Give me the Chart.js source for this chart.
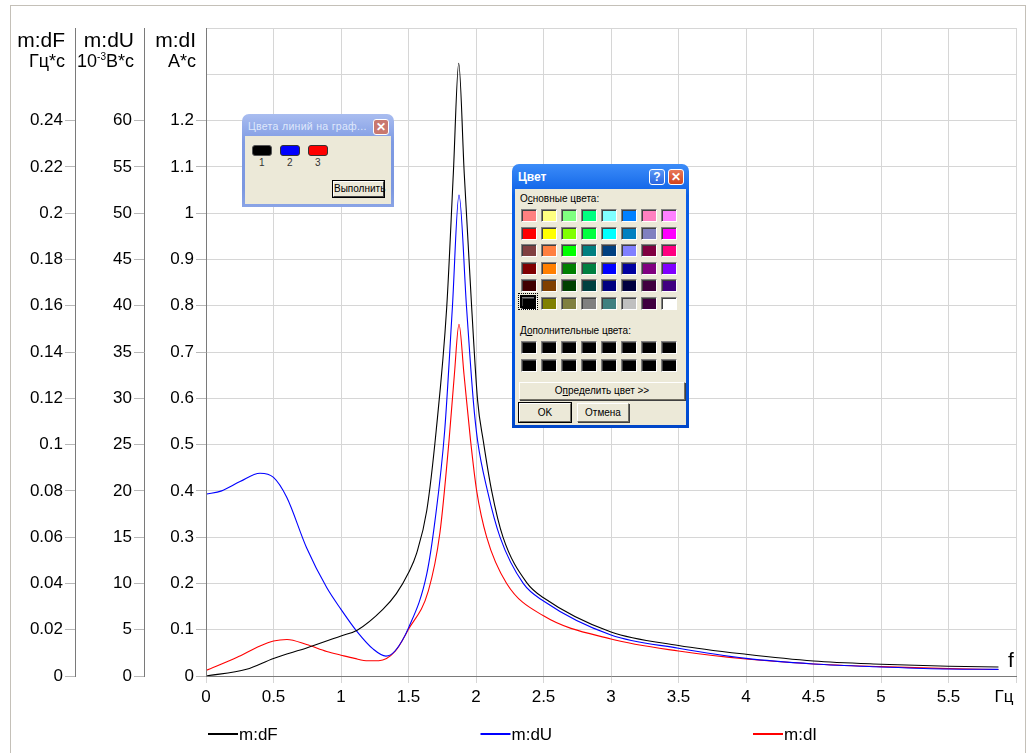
<!DOCTYPE html>
<html><head><meta charset="utf-8">
<script src="https://cdn.jsdelivr.net/npm/chart.js@4/dist/chart.umd.min.js"></script>
<style>
html,body{margin:0;padding:0;background:#fff;}
#wrap{position:relative;width:1027px;height:753px;overflow:hidden;}
#c{position:absolute;left:0;top:0;}
.dlg{position:absolute;box-sizing:border-box;border-radius:7px 7px 0 0;font-family:"Liberation Sans",Arial,sans-serif;color:#000;}
.dlg .body{position:absolute;left:3px;right:3px;bottom:3px;background:#ece9d8;}
.dlg .ttl{position:absolute;left:6px;font-weight:bold;white-space:nowrap;}
.tbtn{position:absolute;box-sizing:border-box;width:16px;height:16px;border:1px solid #fff;border-radius:3px;color:#fff;font:bold 12px/14px "Liberation Sans",Arial,sans-serif;text-align:center;}
.btn{position:absolute;box-sizing:border-box;background:#ece9d8;border:1px solid;border-color:#fff #716f64 #716f64 #fff;box-shadow:1px 1px 0 #404040;font-size:10px;text-align:center;}
.sw{position:absolute;box-sizing:border-box;width:16px;height:13px;border:1px solid;border-color:#808080 #fff #fff #808080;box-shadow:inset 1px 1px 0 #404040;}
.lab{position:absolute;font-size:10px;white-space:nowrap;}
</style></head><body>
<div id="wrap">
<canvas id="c" width="1027" height="753"></canvas>

<div class="dlg" id="d1" style="left:242px;top:114px;width:152px;height:93px;background:linear-gradient(#a9bdf0,#7f9be3 30%,#7b97e0 80%,#8aa4e6);">
  <div class="ttl" style="top:6px;font-size:10.5px;color:#dfe8fb;font-weight:normal;letter-spacing:0.3px;">Цвета линий на граф...</div>
  <div class="tbtn" style="left:131px;top:5px;background:#c9786f;">✕</div>
  <div class="body" style="top:22px;">
    <div style="position:absolute;left:7px;top:9px;width:20px;height:11px;background:#000;border-radius:3px;border:1px solid #555;box-sizing:border-box;"></div>
    <div style="position:absolute;left:35px;top:9px;width:20px;height:11px;background:#0000ff;border-radius:3px;border:1px solid #333;box-sizing:border-box;"></div>
    <div style="position:absolute;left:63px;top:9px;width:20px;height:11px;background:#ff0000;border-radius:3px;border:1px solid #333;box-sizing:border-box;"></div>
    <div class="lab" style="left:14px;top:21px;color:#333;">1</div>
    <div class="lab" style="left:42px;top:21px;color:#333;">2</div>
    <div class="lab" style="left:70px;top:21px;color:#333;">3</div>
    <div class="btn" style="left:88px;top:45px;width:51px;height:16px;line-height:14px;border-color:#fff #404040 #404040 #fff;outline:1px solid #000;">Выполнить</div>
  </div>
</div>

<div class="dlg" id="d2" style="left:512px;top:164px;width:177px;height:264px;background:linear-gradient(#3c8cf8,#0a5fe6 12%,#0054e3 50%,#0050dc 90%,#0046c8);">
  <div class="ttl" style="top:6px;font-size:12px;color:#fff;">Цвет</div>
  <div class="tbtn" style="left:137px;top:5px;background:linear-gradient(#5a97f5,#2a66e0);">?</div>
  <div class="tbtn" style="left:156px;top:5px;background:linear-gradient(#e8795a,#d2431c);">✕</div>
  <div class="body" id="b2" style="top:25px;">
    <div class="lab" style="left:5px;top:4px;">О<u>с</u>новные цвета:</div>
    <div class="lab" style="left:5px;top:136px;">Д<u>о</u>полнительные цвета:</div>
    <div class="btn" style="left:4px;top:193px;width:166px;height:18px;line-height:16px;">О<u>п</u>ределить цвет &gt;&gt;</div>
    <div class="btn" style="left:4px;top:214px;width:52px;height:19px;line-height:17px;outline:1px solid #000;">OK</div>
    <div class="btn" style="left:62px;top:214px;width:52px;height:19px;line-height:17px;">Отмена</div>
  </div>
</div>
</div>
<script>
// ---- data ----
const freqF = [0, 0.3, 0.5, 0.75, 1.0, 1.12, 1.31, 1.41, 1.5, 1.56, 1.635, 1.705, 1.783, 1.832, 1.872, 1.913, 1.968, 2.012, 2.054, 2.116, 2.2, 2.38, 2.5, 3.0, 3.5, 4.0, 4.5, 5.0, 5.5, 5.87];
const valF  = [0, 0.0029, 0.0076, 0.0122, 0.0173, 0.0198, 0.0288, 0.0356, 0.0446, 0.053, 0.0714, 0.106, 0.1592, 0.217, 0.2648, 0.217, 0.1592, 0.119, 0.1016, 0.08, 0.06, 0.04, 0.0338, 0.019, 0.0132, 0.0094, 0.0065, 0.0051, 0.0042, 0.0039];

const freqU = [0, 0.116, 0.252, 0.40, 0.5, 0.598, 0.745, 0.894, 1.0, 1.116, 1.239, 1.333, 1.4, 1.5, 1.635, 1.696, 1.768, 1.825, 1.874, 1.93, 1.98, 2.012, 2.085, 2.178, 2.35, 2.5, 3.0, 3.5, 4.0, 4.5, 5.0, 5.5, 5.87];
const valU  = [19.65, 20.0, 21.0, 21.9, 21.45, 19.3, 13.85, 9.55, 7.2, 4.85, 2.9, 2.15, 2.7, 5.2, 11.0, 16.75, 26.5, 39.8, 51.95, 39.8, 29.75, 25.4, 20.0, 15.0, 10.0, 8.1, 4.43, 3.0, 1.9, 1.3, 0.98, 0.75, 0.72];

const freqI = [0, 0.227, 0.4, 0.5, 0.6, 0.745, 0.894, 1.0, 1.1, 1.2, 1.28, 1.4, 1.5, 1.647, 1.733, 1.80, 1.84, 1.874, 1.911, 1.96, 2.005, 2.079, 2.227, 2.5, 3.0, 3.5, 4.0, 4.5, 5.0, 5.5, 5.87];
const valI  = [0.012, 0.040, 0.065, 0.0757, 0.079, 0.068, 0.053, 0.045, 0.038, 0.033, 0.033, 0.053, 0.101, 0.184, 0.31, 0.508, 0.652, 0.760, 0.652, 0.508, 0.4, 0.3, 0.2, 0.13, 0.08, 0.054, 0.0367, 0.026, 0.0202, 0.016, 0.014];

const seriesNames = ['m:dF', 'm:dU', 'm:dI'];
const axisUnits = ['Гц*с', '10|-3|В*с', 'А*с'];
const xUnit = 'Гц';
const xName = 'f';

// ---- palette for the colour dialog ----
const basicColors = [
 ['#FF8080','#FFFF80','#80FF80','#00FF80','#80FFFF','#0080FF','#FF80C0','#FF80FF'],
 ['#FF0000','#FFFF00','#80FF00','#00FF40','#00FFFF','#0080C0','#8080C0','#FF00FF'],
 ['#804040','#FF8040','#00FF00','#008080','#004080','#8080FF','#800040','#FF0080'],
 ['#800000','#FF8000','#008000','#008040','#0000FF','#0000A0','#800080','#8000FF'],
 ['#400000','#804000','#004000','#004040','#000080','#000040','#400040','#400080'],
 ['#000000','#808000','#808040','#808080','#408080','#C0C0C0','#400040','#FFFFFF']
];
(function(){
  const b = document.getElementById('b2');
  basicColors.forEach((row, j) => row.forEach((c, i) => {
    const d = document.createElement('div'); d.className = 'sw';
    d.style.left = (6 + 20*i) + 'px'; d.style.top = (20 + 17.5*j) + 'px'; d.style.background = c;
    b.appendChild(d);
  }));
  for (let j = 0; j < 2; j++) for (let i = 0; i < 8; i++) {
    const d = document.createElement('div'); d.className = 'sw';
    d.style.left = (6 + 20*i) + 'px'; d.style.top = (152 + 17.5*j) + 'px'; d.style.background = '#000';
    b.appendChild(d);
  }
  const f = document.createElement('div');
  f.style.cssText = 'position:absolute;left:3px;top:104px;width:20px;height:17px;border:1px dotted #000;box-sizing:border-box;';
  b.appendChild(f);
  const s = document.createElement('div');
  s.style.cssText = 'position:absolute;left:5px;top:106px;width:16px;height:13px;border:2px solid #000;box-sizing:border-box;';
  b.appendChild(s);
})();

const FONT = '"Liberation Sans", Arial, sans-serif';
const fmt = v => String(Math.round(v * 1000) / 1000);
const GRID = '#d6d6d6';
const TICKC = (lim) => (ctx) => (ctx.tick && ctx.tick.value > lim) ? 'rgba(0,0,0,0)' : '#b8b8b8';

const pts = (xs, ys) => xs.map((x, i) => ({x: x, y: ys[i]}));

const overlay = {
  id: 'overlay',
  afterDraw(chart) {
    const c = chart.ctx;
    const s = chart.scales;
    c.save();
    // outer frame
    c.strokeStyle = '#c4c0b8'; c.lineWidth = 1;
    c.strokeRect(10.5, 5.5, 1015, 800);
    // axis headers
    c.fillStyle = '#000'; c.textAlign = 'right'; c.textBaseline = 'alphabetic';
    const ids = ['yF', 'yU', 'yI'];
    ids.forEach((id, k) => {
      const r = s[id].right - 11;
      c.font = '21px ' + FONT;
      c.fillText(seriesNames[k], r + 1, 47);
      const u = axisUnits[k].split('|');
      c.font = '18px ' + FONT;
      if (u.length === 3) {
        const w3 = c.measureText(u[2]).width;
        c.fillText(u[2], r + 1, 67);
        c.font = '10px ' + FONT;
        const w2 = c.measureText(u[1]).width;
        c.fillText(u[1], r + 1 - w3, 60);
        c.font = '18px ' + FONT;
        c.fillText(u[0], r + 1 - w3 - w2, 67);
      } else {
        c.fillText(u[0], r + 1, 67);
      }
    });
    // x unit and name
    c.font = '17px ' + FONT; c.textAlign = 'center'; c.textBaseline = 'middle';
    c.fillText(xUnit, s.x.right - 12, 697);
    c.font = '21px ' + FONT;
    c.fillText(xName, s.x.right - 5, 661);
    // legend
    c.font = '17px ' + FONT; c.textAlign = 'left';
    chart.data.datasets.forEach((ds, k) => {
      const x0 = 208 + k * 272.5;
      c.strokeStyle = ds.borderColor; c.lineWidth = 2;
      c.beginPath(); c.moveTo(x0, 734); c.lineTo(x0 + 30, 734); c.stroke();
      c.fillText(ds.label, x0 + 31, 735);
    });
    c.restore();
  }
};

new Chart(document.getElementById('c'), {
  type: 'scatter',
  data: {
    datasets: [
      {label: seriesNames[0], data: pts(freqF, valF), yAxisID: 'yF', borderColor: '#000000'},
      {label: seriesNames[1], data: pts(freqU, valU), yAxisID: 'yU', borderColor: '#0000ff'},
      {label: seriesNames[2], data: pts(freqI, valI), yAxisID: 'yI', borderColor: '#ff0000'}
    ].map(d => Object.assign(d, {showLine: true, fill: false, borderWidth: 1.1, pointRadius: 0, cubicInterpolationMode: 'monotone'}))
  },
  options: {
    responsive: false, animation: false, devicePixelRatio: 1,
    layout: {padding: {left: 10, top: 28, right: 11, bottom: 0}},
    plugins: {legend: {display: false}, tooltip: {enabled: false}},
    scales: {
      x: {
        type: 'linear', min: 0, max: 6,
        ticks: {stepSize: 0.5, autoSkip: false, maxRotation: 0, padding: 4, color: '#000', font: {family: FONT, size: 17},
                callback: v => v > 5.75 ? '' : fmt(v)},
        grid: {color: GRID, tickLength: 7, tickColor: GRID},
        border: {color: '#7a7a7a', z: 1},
        afterFit(sc) { sc.height = 77; }
      },
      yI: {
        position: 'left', weight: 1, min: 0, max: 1.4,
        ticks: {stepSize: 0.1, autoSkip: false, padding: 2, color: '#000', font: {family: FONT, size: 17},
                callback: v => v > 1.25 ? '' : fmt(v)},
        grid: {color: GRID, tickLength: 10, tickColor: TICKC(1.25)},
        border: {color: '#7a7a7a', z: 1},
        afterFit(sc) { sc.width = 62; }
      },
      yU: {
        position: 'left', weight: 2, min: 0, max: 70,
        ticks: {stepSize: 5, autoSkip: false, padding: 2, color: '#000', font: {family: FONT, size: 17},
                callback: v => v > 62 ? '' : fmt(v)},
        grid: {drawOnChartArea: false, tickLength: 10, tickColor: TICKC(62)},
        border: {color: '#7a7a7a', z: 1},
        afterFit(sc) { sc.width = 69; }
      },
      yF: {
        position: 'left', weight: 3, min: 0, max: 0.28,
        ticks: {stepSize: 0.02, autoSkip: false, padding: 2, color: '#000', font: {family: FONT, size: 17},
                callback: v => v > 0.25 ? '' : fmt(v)},
        grid: {drawOnChartArea: false, tickLength: 10, tickColor: TICKC(0.25)},
        border: {color: '#7a7a7a', z: 1},
        afterFit(sc) { sc.width = 65; }
      }
    }
  },
  plugins: [overlay]
});
</script>
</body></html>
